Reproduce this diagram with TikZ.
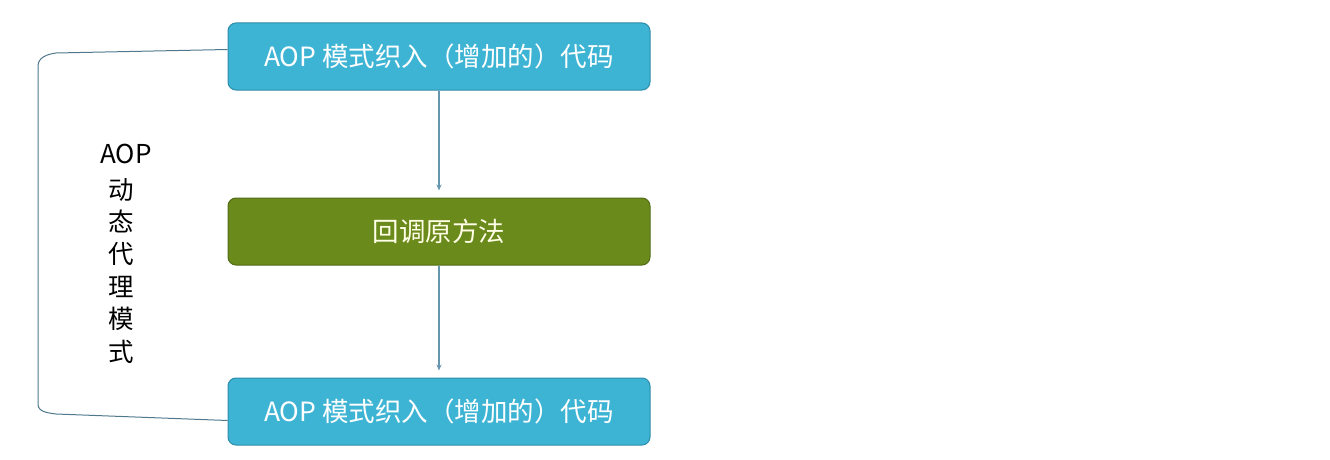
\documentclass[tikz,border=0pt]{standalone}
\usepackage{fontspec}
\setmainfont{Noto Sans CJK SC}
\usepackage{tikz}
\usetikzlibrary{arrows.meta}
\usetikzlibrary{positioning}
\definecolor{aopblue}{RGB}{62,180,212}
\definecolor{aopblueedge}{RGB}{45,140,170}
\definecolor{cbgreen}{RGB}{106,138,28}
\definecolor{cbgreenedge}{RGB}{82,108,22}
\definecolor{linkgray}{RGB}{100,150,175}
\tikzset{stepbox/.style={rectangle, rounded corners=8pt, minimum width=422pt,
      minimum height=67pt, inner sep=0pt, font=\fontsize{26.5pt}{30pt}\selectfont}}
\tikzset{aopbox/.style={stepbox, fill=aopblue, draw=aopblueedge, line width=1pt, text=white}}
\tikzset{cbbox/.style={stepbox, fill=cbgreen, draw=cbgreenedge, line width=1pt, text=white!90!yellow}}
\tikzset{flow/.style={draw=linkgray, line width=1.2pt, -{Stealth[length=6pt,width=5pt]}, shorten >=7pt}}
\tikzset{loopline/.style={draw=linkgray!80!black, line width=1pt}}

\begin{document}
\begin{tikzpicture}[x=1pt,y=-1pt]
		\useasboundingbox (0,0) rectangle (1330,460);
		\node[aopbox] (before) at (439,56.5) {AOP 模式织入（增加的）代码};
		\node[cbbox, below=107pt of before] (callback) {回调原方法};
		\node[aopbox, below=112pt of callback] (after) {AOP 模式织入（增加的）代码};
		% left label
		\node[font=\fontsize{26pt}{30pt}\selectfont, inner sep=0pt] (aoplabel) at (126,154) {AOP};
		\node[font=\fontsize{25.5pt}{32.4pt}\selectfont, inner sep=0pt, align=center, anchor=north] (proxylabel) at (121,178)
			{动\\态\\代\\理\\模\\式};
		% links
		\coordinate (beforeout) at ([yshift=7pt]before.west);
		\coordinate (afterin) at ([yshift=-9pt]after.west);
		\draw[flow] (before) -- (callback);
		\draw[flow] (callback) -- (after);
		\draw[loopline] (beforeout) -- (56,53) to[out=188,in=90] (38,66) -- (38,404) to[out=-90,in=172] (56,414) -- (afterin);
		\end{tikzpicture}
\end{document}
